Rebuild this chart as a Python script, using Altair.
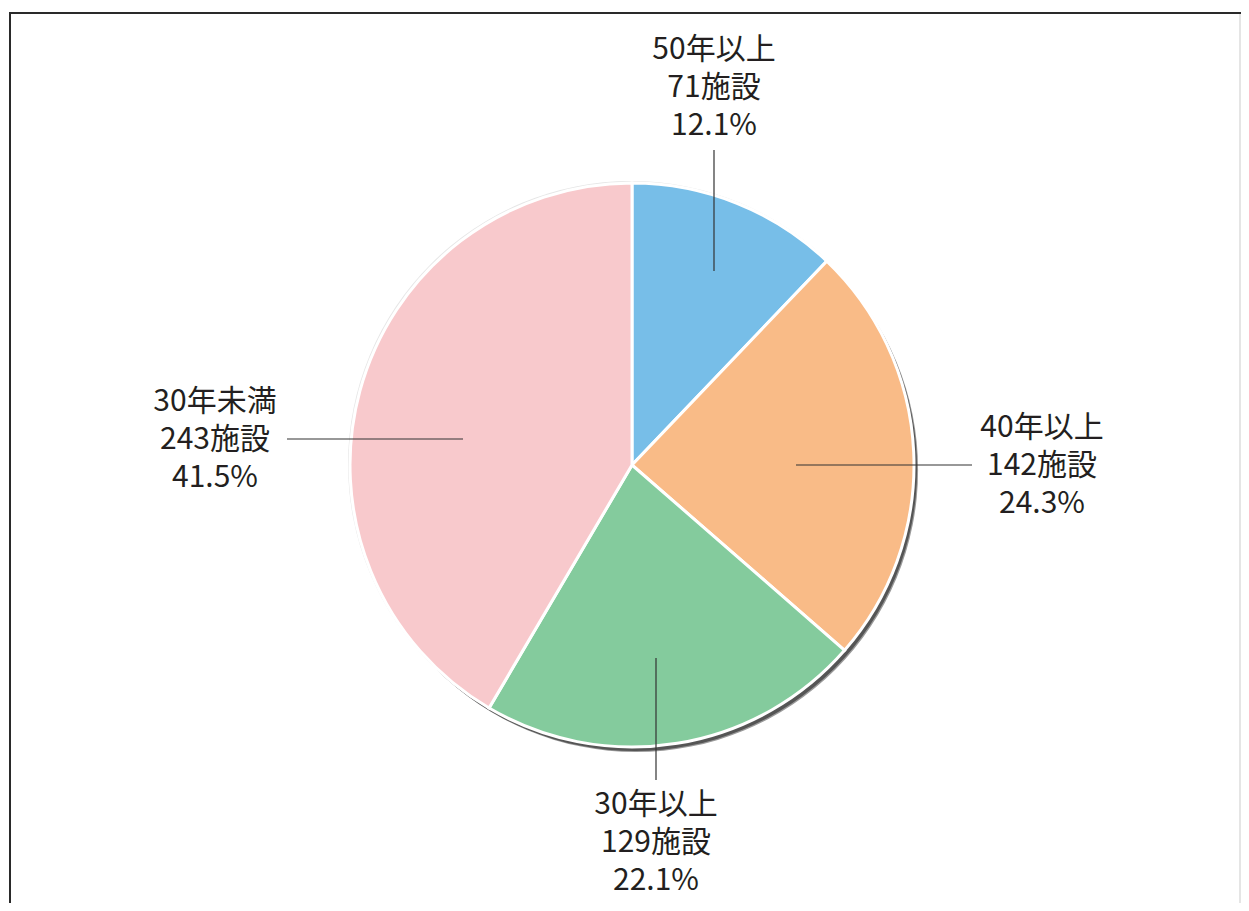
import altair as alt
import pandas as pd
import math

# ---- data ----
categories = ["50年以上", "40年以上", "30年以上", "30年未満"]
counts = [71, 142, 129, 243]
percents = ["12.1%", "24.3%", "22.1%", "41.5%"]
colors = ["#77BEE8", "#F9BB87", "#84CB9D", "#F8C9CC"]

# ---- layout (pixels, chart coords) ----
W, H = 1233, 895
CX, CY, R = 624, 457, 282
label_pos = {  # first-line centre of label, leader line (x1, y1, x2, y2)
    "50年以上": (706, 42, (706, 142, 706, 263)),
    "40年以上": (1034, 420, (788, 457, 964, 457)),
    "30年以上": (648, 797, (648, 650, 648, 772)),
    "30年未満": (207, 394, (279, 431, 455, 431)),
}

df = pd.DataFrame({
    "cat": categories,
    "count": counts,
    "pct": percents,
    "idx": list(range(len(categories))),
})

FONT = "Noto Sans CJK JP"
FULL = 2 * math.pi

shadow = alt.Chart(pd.DataFrame({"v": [1]})).mark_arc(
    outerRadius=R, color="#555555"
).encode(theta=alt.value(0), theta2=alt.value(FULL), x=alt.value(CX + 3), y=alt.value(CY + 4))

shadow2 = alt.Chart(pd.DataFrame({"v": [1]})).mark_arc(
    outerRadius=R, color="#9a9a9a"
).encode(theta=alt.value(0), theta2=alt.value(FULL), x=alt.value(CX + 4), y=alt.value(CY + 5))

rim = alt.Chart(pd.DataFrame({"v": [1]})).mark_arc(
    outerRadius=R + 1, color="#e6e6e6"
).encode(theta=alt.value(0), theta2=alt.value(FULL), x=alt.value(CX - 1), y=alt.value(CY - 1))

pie = alt.Chart(df).mark_arc(
    outerRadius=R, stroke="white", strokeWidth=3
).encode(
    theta=alt.Theta("count:Q", stack=True),
    order=alt.Order("idx:Q"),
    color=alt.Color("cat:N", scale=alt.Scale(domain=categories, range=colors), legend=None),
    x=alt.value(CX), y=alt.value(CY),
)

layers = [shadow2, shadow, rim, pie]

for cat, cnt, pct in zip(categories, counts, percents):
    tx, ty, (x1, y1, x2, y2) = label_pos[cat]
    line = alt.Chart(pd.DataFrame({"c": [cat]})).mark_rule(
        color="#333333", strokeWidth=1.2
    ).encode(x=alt.value(x1), y=alt.value(y1), x2=alt.value(x2), y2=alt.value(y2))
    txt = alt.Chart(pd.DataFrame({"t": [f"{cat}\n{cnt}施設\n{pct}"]})).mark_text(
        font=FONT, fontSize=30, color="#231f20", align="center", baseline="middle",
        lineBreak="\n", lineHeight=38
    ).encode(text="t:N", x=alt.value(tx), y=alt.value(ty))
    layers += [line, txt]

frame_top = alt.Chart(pd.DataFrame({"a": [0]})).mark_rule(color="#2a2a2a", strokeWidth=2).encode(
    x=alt.value(1), x2=alt.value(W), y=alt.value(5), y2=alt.value(5))
frame_left = alt.Chart(pd.DataFrame({"a": [0]})).mark_rule(color="#2a2a2a", strokeWidth=2).encode(
    x=alt.value(2), x2=alt.value(2), y=alt.value(4), y2=alt.value(H + 20))
frame_right = alt.Chart(pd.DataFrame({"a": [0]})).mark_rule(color="#dddddd", strokeWidth=1.5).encode(
    x=alt.value(W - 1), x2=alt.value(W - 1), y=alt.value(6), y2=alt.value(H + 20))
layers += [frame_top, frame_left, frame_right]

chart = alt.layer(*layers).properties(
    width=W, height=H, autosize=alt.AutoSizeParams(type="none"), padding=0,
    background="white"
).configure_view(stroke=None)

chart.save("out.html", embed_options={"renderer": "svg", "actions": False})
